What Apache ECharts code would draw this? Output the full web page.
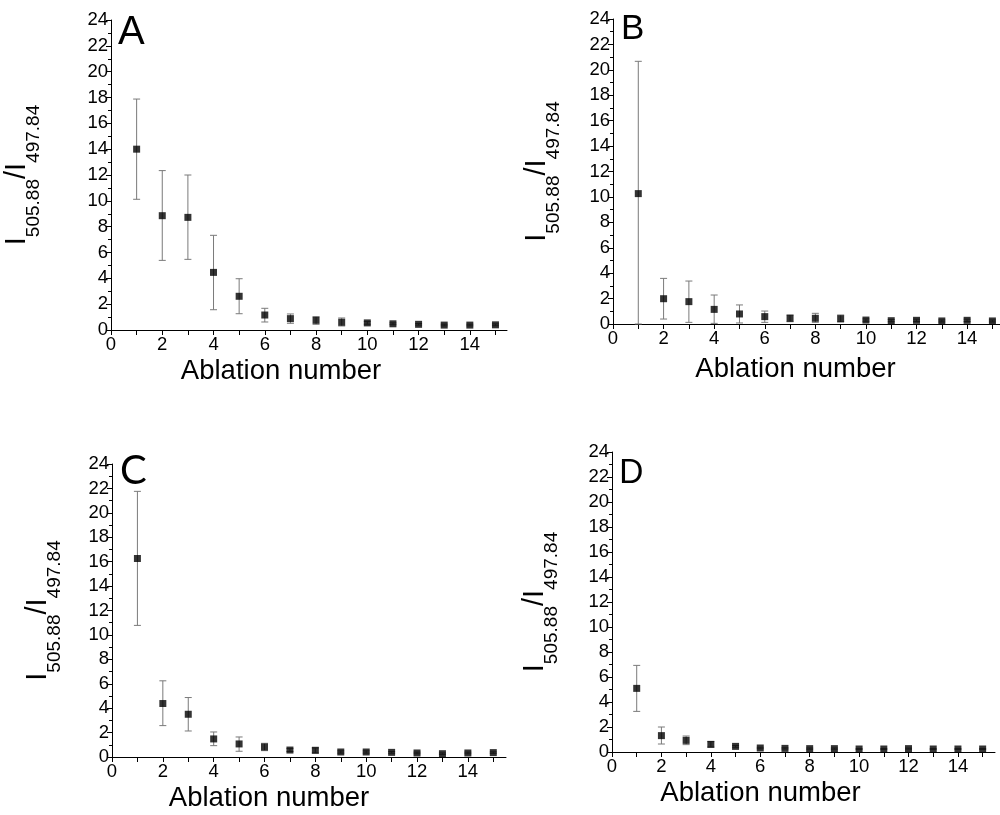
<!DOCTYPE html>
<html>
<head>
<meta charset="utf-8">
<script src="https://cdn.jsdelivr.net/npm/echarts@6/dist/echarts.min.js"></script>
<style>html,body{margin:0;padding:0;background:#fff;}#c{width:1000px;height:815px;}</style>
</head>
<body>
<div id="c"></div>
<script>
const ablation = [1,2,3,4,5,6,7,8,9,10,11,12,13,14,15];
const xTickValues = [0,1,2,3,4,5,6,7,8,9,10,11,12,13,14,15];
const xLabelValues = [0,2,4,6,8,10,12,14];

const A_mean = [14.0, 8.85, 8.72, 4.46, 2.61, 1.16, 0.88, 0.75, 0.60, 0.55, 0.48, 0.44, 0.38, 0.38, 0.40];
const A_hi   = [17.88, 12.34, 12.0, 7.33, 3.97, 1.68, 1.24, 1.03, 0.93, 0.65, 0.55, 0.50, 0.45, 0.45, 0.47];
const A_lo   = [10.12, 5.39, 5.47, 1.57, 1.26, 0.62, 0.52, 0.44, 0.31, 0.45, 0.41, 0.38, 0.32, 0.32, 0.33];

const B_mean = [10.26, 1.99, 1.76, 1.15, 0.79, 0.58, 0.45, 0.45, 0.42, 0.31, 0.26, 0.29, 0.24, 0.29, 0.24];
const B_hi   = [20.67, 3.59, 3.38, 2.28, 1.50, 1.02, 0.71, 0.84, 0.71, 0.40, 0.35, 0.38, 0.32, 0.38, 0.32];
const B_lo   = [0.0, 0.39, 0.13, 0.05, 0.08, 0.13, 0.18, 0.13, 0.16, 0.22, 0.18, 0.20, 0.16, 0.20, 0.16];

const C_mean = [16.26, 4.38, 3.50, 1.48, 1.07, 0.82, 0.57, 0.55, 0.41, 0.41, 0.38, 0.33, 0.27, 0.33, 0.36];
const C_hi   = [21.76, 6.24, 4.87, 2.05, 1.64, 1.12, 0.70, 0.74, 0.50, 0.50, 0.45, 0.40, 0.33, 0.40, 0.42];
const C_lo   = [10.78, 2.57, 2.13, 0.93, 0.47, 0.52, 0.45, 0.33, 0.32, 0.32, 0.31, 0.26, 0.21, 0.26, 0.30];

const D_mean = [5.09, 1.31, 0.93, 0.61, 0.45, 0.32, 0.29, 0.27, 0.27, 0.24, 0.24, 0.27, 0.24, 0.24, 0.24];
const D_hi   = [6.93, 2.00, 1.28, 0.83, 0.52, 0.38, 0.34, 0.32, 0.32, 0.28, 0.28, 0.31, 0.28, 0.28, 0.28];
const D_lo   = [3.25, 0.64, 0.59, 0.40, 0.38, 0.26, 0.24, 0.22, 0.22, 0.20, 0.20, 0.23, 0.20, 0.20, 0.20];

const panelLetters = ['A','B','C','D'];
const xName = 'Ablation number';
const yName = '{i|I}{s|505.88}{i|/I}{s|497.84}';

const panels = [
  {mean:A_mean, hi:A_hi, lo:A_lo},
  {mean:B_mean, hi:B_hi, lo:B_lo},
  {mean:C_mean, hi:C_hi, lo:C_lo},
  {mean:D_mean, hi:D_hi, lo:D_lo}
];

// layout (pixels)
const grids = [
  {left:111, top:20, width:396, height:310},
  {left:613, top:19, width:387, height:305},
  {left:112, top:464, width:394, height:293},
  {left:612, top:452, width:383, height:300}
];
const xMaxes = [15.45, 15.3, 15.5, 15.5];
const yGaps = [80, 62, 60, 63];
const xGaps = [27, 31, 27, 27];
const xNamePad = [[0,56,0,0],[0,22,0,0],[0,80,0,0],[0,86,0,0]];
const FONT = '"Liberation Sans", Arial, sans-serif';

const option = {
  backgroundColor:'#fff',
  animation:false,
  grid: grids.map(g => Object.assign({containLabel:false}, g)),
  xAxis: grids.map((g,i) => ({
    type:'value', gridIndex:i, min:0, max:xMaxes[i],
    axisLine:{show:true, onZero:false, lineStyle:{color:'#000', width:1}},
    axisTick:{show:true, customValues:xTickValues, length:5, lineStyle:{color:'#000'}},
    axisLabel:{customValues:xLabelValues, color:'#000', fontSize:18.5, fontFamily:FONT, margin:5},
    splitLine:{show:false},
    name:xName, nameLocation:'middle', nameGap:xGaps[i],
    nameTextStyle:{color:'#000', fontSize:27.5, fontFamily:FONT, padding:xNamePad[i]}
  })),
  yAxis: grids.map((g,i) => ({
    type:'value', gridIndex:i, min:0, max:24, interval:2,
    axisLine:{show:true, onZero:false, lineStyle:{color:'#000', width:1}},
    axisTick:{show:true, length:5, lineStyle:{color:'#000'}},
    minorTick:{show:true, splitNumber:2, length:3, lineStyle:{color:'#000'}},
    axisLabel:{color:'#000', fontSize:18.5, fontFamily:FONT, margin:3},
    splitLine:{show:false},
    name:yName, nameLocation:'middle', nameRotate:90, nameGap:yGaps[i],
    nameTextStyle:{
      color:'#000', fontFamily:FONT,
      rich:{
        i:{fontSize:29, lineHeight:29, verticalAlign:'top', fontFamily:FONT, color:'#000'},
        s:{fontSize:19, lineHeight:19, padding:[22,0,0,0], verticalAlign:'top', fontFamily:FONT, color:'#000'}
      }
    }
  })),
  series: [],
  graphic: [
    {type:'text', left:118, top:13, style:{text:panelLetters[0], font:'40px "Liberation Sans", Arial, sans-serif', fill:'#000'}},
    {type:'text', left:621, top:12, style:{text:panelLetters[1], font:'35px "Liberation Sans", Arial, sans-serif', fill:'#000'}},
    {type:'text', left:120, top:451, style:{text:panelLetters[2], font:'40px Lato, "Open Sans", sans-serif', fill:'#000'}},
    {type:'text', left:619, top:457, style:{text:panelLetters[3], font:'32px Lato, "Open Sans", sans-serif', fill:'#000'}}
  ]
};

panels.forEach((p,i) => {
  option.series.push({
    type:'custom', xAxisIndex:i, yAxisIndex:i, z:1,
    data: ablation.map((x,k) => [x, p.lo[k], p.hi[k]]),
    renderItem: function(params, api){
      const x = api.value(0);
      const lo = api.coord([x, api.value(1)]);
      const hi = api.coord([x, api.value(2)]);
      const cw = 3.5;
      const st = {stroke:'#7a7a7a', lineWidth:1};
      return {type:'group', children:[
        {type:'line', shape:{x1:hi[0], y1:hi[1], x2:lo[0], y2:lo[1]}, style:st},
        {type:'line', shape:{x1:hi[0]-cw, y1:hi[1], x2:hi[0]+cw, y2:hi[1]}, style:st},
        {type:'line', shape:{x1:lo[0]-cw, y1:lo[1], x2:lo[0]+cw, y2:lo[1]}, style:st}
      ]};
    }
  });
  option.series.push({
    type:'scatter', xAxisIndex:i, yAxisIndex:i, z:3,
    symbol:'rect', symbolSize:7,
    itemStyle:{color:'#000'},
    data: ablation.map((x,k) => [x, p.mean[k]])
  });
});

const chart = echarts.init(document.getElementById('c'), null, {renderer:'canvas'});
chart.setOption(option);
</script>
</body>
</html>
